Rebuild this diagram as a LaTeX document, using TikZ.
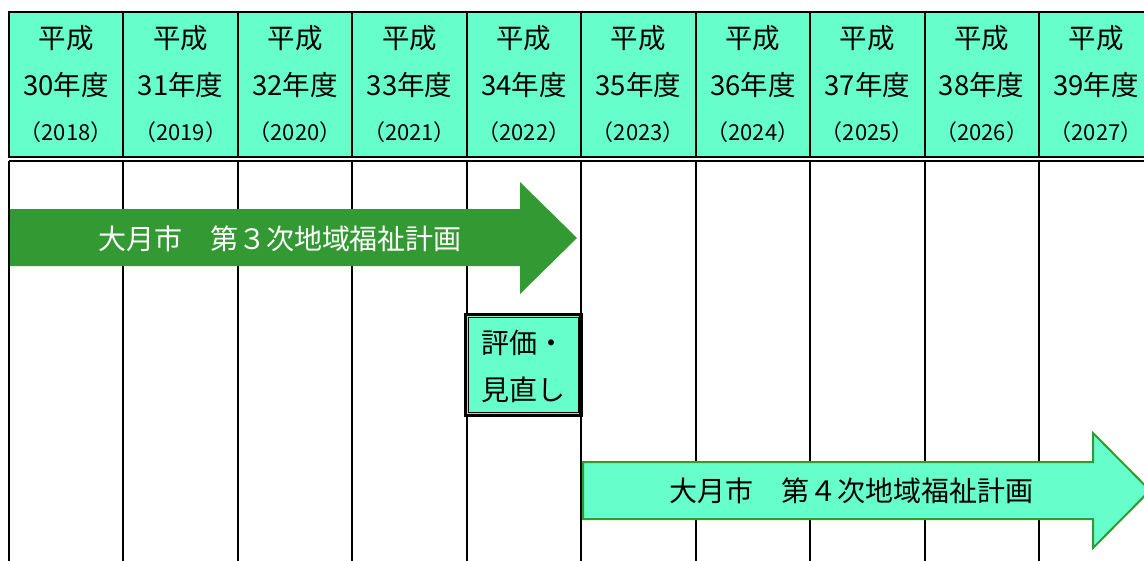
\documentclass[tikz,border=0pt]{standalone}
\usepackage{fontspec}
\newfontfamily\jp{Noto Sans CJK JP}
\definecolor{mint}{HTML}{66FFCC}
\definecolor{dgreen}{HTML}{339933}
\begin{document}
\begin{tikzpicture}[x=1pt,y=-1pt,
  tline/.style={line width=2pt,black},
  hdr/.style={font=\jp\fontsize{27.5}{27.5}\selectfont,inner sep=0pt,anchor=center},
  yr/.style={font=\jp\fontsize{22}{22}\selectfont,inner sep=0pt,anchor=center},
  arrowtext/.style={font=\jp\fontsize{28}{28}\selectfont,inner sep=0pt}]
\useasboundingbox (0,0) rectangle (1144,560);
\clip (0,0) rectangle (1144,560);
% header
\fill[mint] (9,12) rectangle (1160,157);
\draw[tline] (1160,12) -- (9,12) -- (9,157) -- (1160,157);
% body top
\draw[tline] (9,161) -- (1160,161);
\draw[tline] (9,161) -- (9,570);
\foreach \i in {1,...,9}{
  \pgfmathsetmacro{\xx}{9+114.44*\i}
  \draw[tline] (\xx,12) -- (\xx,157);
  \draw[tline] (\xx,161) -- (\xx,570);
}
% header texts
\foreach \i/\n/\y in {0/30/2018,1/31/2019,2/32/2020,3/33/2021,4/34/2022,5/35/2023,6/36/2024,7/37/2025,8/38/2026,9/39/2027}{
  \pgfmathsetmacro{\cx}{9+114.44*\i+57.2}
  \node[hdr] (h\i a) at (\cx,38) {平成};
  \node[hdr] (h\i b) at (\cx,85) {\n 年度};
  \node[yr] (h\i c) at (\cx,132) {（\y）};
}
% arrow 1
\fill[dgreen] (10,209) -- (520,209) -- (520,182) -- (577,238) -- (520,294) -- (520,266) -- (10,266) -- cycle;
\node[arrowtext,text=white] (plan3) at (280,239) {大月市　第３次地域福祉計画};
% review box
\draw[black,line width=0.8pt,double=black,double distance=1.5pt,fill=mint] (465.5,314.5) rectangle (581,415.5);
\fill[mint] (469,318) rectangle (578,412);
\draw[black,line width=1.2pt] (468.5,317.5) rectangle (578.5,412.5);
\node[arrowtext,anchor=west] (rev1) at (481,343) {評価・};
\node[arrowtext,anchor=west] (rev2) at (481,390) {見直し};
% arrow 2
\filldraw[fill=mint,draw=dgreen,line width=2pt,line join=miter] (583,462) -- (1093,462) -- (1093,433) -- (1150,490.5) -- (1093,548) -- (1093,519) -- (583,519) -- cycle;
\node[arrowtext] (plan4) at (851,491) {大月市　第４次地域福祉計画};
\end{tikzpicture}
\end{document}
